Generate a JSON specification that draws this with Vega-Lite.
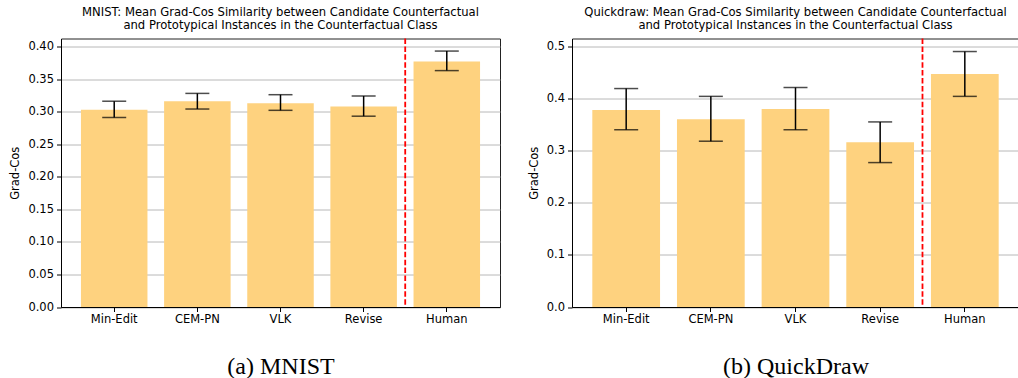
{
  "$schema": "https://vega.github.io/schema/vega-lite/v6.json",
  "padding": {"left": 9, "top": 5.5, "right": 0, "bottom": 0},
  "autosize": {"type": "pad"},
  "background": "white",
  "datasets": {
    "scores": [
      {"dataset": "MNIST", "method": "Min-Edit", "mean": 0.303, "lo": 0.291, "hi": 0.316},
      {"dataset": "MNIST", "method": "CEM-PN", "mean": 0.316, "lo": 0.304, "hi": 0.328},
      {"dataset": "MNIST", "method": "VLK", "mean": 0.313, "lo": 0.302, "hi": 0.326},
      {"dataset": "MNIST", "method": "Revise", "mean": 0.308, "lo": 0.293, "hi": 0.324},
      {"dataset": "MNIST", "method": "Human", "mean": 0.377, "lo": 0.363, "hi": 0.393},
      {"dataset": "Quickdraw", "method": "Min-Edit", "mean": 0.378, "lo": 0.340, "hi": 0.419},
      {"dataset": "Quickdraw", "method": "CEM-PN", "mean": 0.360, "lo": 0.318, "hi": 0.404},
      {"dataset": "Quickdraw", "method": "VLK", "mean": 0.380, "lo": 0.340, "hi": 0.421},
      {"dataset": "Quickdraw", "method": "Revise", "mean": 0.316, "lo": 0.277, "hi": 0.355},
      {"dataset": "Quickdraw", "method": "Human", "mean": 0.447, "lo": 0.404, "hi": 0.490}
    ]
  },
  "config": {
    "font": "DejaVu Sans",
    "concat": {"spacing": 26},
    "view": {"stroke": "#222222", "strokeWidth": 1},
    "axis": {
      "labelFont": "DejaVu Sans",
      "labelFontSize": 11.5,
      "labelColor": "black",
      "labelOverlap": false,
      "tickColor": "black",
      "tickSize": 4.5,
      "domainColor": "black",
      "titleColor": "black",
      "titleFont": "DejaVu Sans",
      "titleFontWeight": "normal"
    },
    "axisY": {"gridColor": "#b0b0b0", "gridWidth": 0.9, "titleFontSize": 11.5, "titlePadding": 7, "labelPadding": 3},
    "axisX": {"grid": false, "labelAngle": 0, "labelPadding": 2, "titleFont": "Liberation Serif", "titleFontSize": 24, "titlePadding": 29.5},
    "title": {"font": "DejaVu Sans", "fontSize": 11.6, "fontWeight": "normal", "color": "black", "lineHeight": 13.8, "offset": 5.5}
  },
  "hconcat": [
    {
      "title": {"text": ["MNIST: Mean Grad-Cos Similarity between Candidate Counterfactual", "and Prototypical Instances in the Counterfactual Class"]},
      "width": 439,
      "height": 268.5,
      "data": {"name": "scores"},
      "transform": [{"filter": "datum.dataset === 'MNIST'"}],
      "encoding": {
        "x": {"field": "method", "type": "nominal", "sort": ["Min-Edit", "CEM-PN", "VLK", "Revise", "Human"],
              "scale": {"paddingInner": 0.2, "paddingOuter": 0.24},
              "axis": {"title": "(a) MNIST"}}
      },
      "layer": [
        {"mark": {"type": "bar", "color": "#FED27F"},
         "encoding": {"y": {"field": "mean", "type": "quantitative",
                            "scale": {"domain": [0, 0.4123], "nice": false, "zero": true},
                            "axis": {"title": "Grad-Cos", "values": [0, 0.05, 0.1, 0.15, 0.2, 0.25, 0.3, 0.35, 0.4], "format": ".2f", "tickCount": 9}}}},
        {"mark": {"type": "rule", "color": "black", "strokeWidth": 1.5},
         "encoding": {"y": {"field": "lo", "type": "quantitative",
                            "axis": {"title": "Grad-Cos", "values": [0, 0.05, 0.1, 0.15, 0.2, 0.25, 0.3, 0.35, 0.4], "format": ".2f", "tickCount": 9}},
                      "y2": {"field": "hi"}}},
        {"mark": {"type": "tick", "color": "black", "thickness": 1.5, "size": 24, "orient": "horizontal"},
         "encoding": {"y": {"field": "lo", "type": "quantitative",
                            "axis": {"title": "Grad-Cos", "values": [0, 0.05, 0.1, 0.15, 0.2, 0.25, 0.3, 0.35, 0.4], "format": ".2f", "tickCount": 9}}}},
        {"mark": {"type": "tick", "color": "black", "thickness": 1.5, "size": 24, "orient": "horizontal"},
         "encoding": {"y": {"field": "hi", "type": "quantitative",
                            "axis": {"title": "Grad-Cos", "values": [0, 0.05, 0.1, 0.15, 0.2, 0.25, 0.3, 0.35, 0.4], "format": ".2f", "tickCount": 9}}}},
        {"transform": [{"filter": "datum.method === 'Human'"}],
         "mark": {"type": "rule", "color": "red", "strokeWidth": 1.8, "strokeDash": [5.5, 2.4]},
         "encoding": {"x": {"field": "method", "type": "nominal", "bandPosition": -0.125}}}
      ]
    },
    {
      "title": {"text": ["Quickdraw: Mean Grad-Cos Similarity between Candidate Counterfactual", "and Prototypical Instances in the Counterfactual Class"]},
      "width": 447,
      "height": 268.5,
      "data": {"name": "scores"},
      "transform": [{"filter": "datum.dataset === 'Quickdraw'"}],
      "encoding": {
        "x": {"field": "method", "type": "nominal", "sort": ["Min-Edit", "CEM-PN", "VLK", "Revise", "Human"],
              "scale": {"paddingInner": 0.2, "paddingOuter": 0.24},
              "axis": {"title": "(b) QuickDraw"}}
      },
      "layer": [
        {"mark": {"type": "bar", "color": "#FED27F"},
         "encoding": {"y": {"field": "mean", "type": "quantitative",
                            "scale": {"domain": [0, 0.515], "nice": false, "zero": true},
                            "axis": {"title": "Grad-Cos", "values": [0, 0.1, 0.2, 0.3, 0.4, 0.5], "format": ".1f"}}}},
        {"mark": {"type": "rule", "color": "black", "strokeWidth": 1.5},
         "encoding": {"y": {"field": "lo", "type": "quantitative",
                            "axis": {"title": "Grad-Cos", "values": [0, 0.1, 0.2, 0.3, 0.4, 0.5], "format": ".1f"}},
                      "y2": {"field": "hi"}}},
        {"mark": {"type": "tick", "color": "black", "thickness": 1.5, "size": 24, "orient": "horizontal"},
         "encoding": {"y": {"field": "lo", "type": "quantitative",
                            "axis": {"title": "Grad-Cos", "values": [0, 0.1, 0.2, 0.3, 0.4, 0.5], "format": ".1f"}}}},
        {"mark": {"type": "tick", "color": "black", "thickness": 1.5, "size": 24, "orient": "horizontal"},
         "encoding": {"y": {"field": "hi", "type": "quantitative",
                            "axis": {"title": "Grad-Cos", "values": [0, 0.1, 0.2, 0.3, 0.4, 0.5], "format": ".1f"}}}},
        {"transform": [{"filter": "datum.method === 'Human'"}],
         "mark": {"type": "rule", "color": "red", "strokeWidth": 1.8, "strokeDash": [5.5, 2.4]},
         "encoding": {"x": {"field": "method", "type": "nominal", "bandPosition": -0.125}}}
      ]
    }
  ]
}
